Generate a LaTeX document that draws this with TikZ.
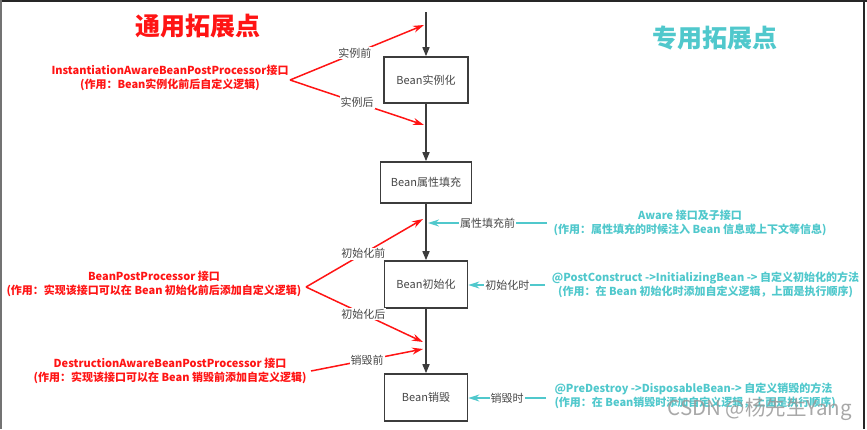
\documentclass[tikz,border=0pt]{standalone}
\usepackage{fontspec}
\setmainfont{Noto Sans CJK SC}
\usetikzlibrary{arrows.meta}
\definecolor{myred}{RGB}{255,20,20}
\definecolor{mycyan}{RGB}{80,200,204}
\definecolor{boxgray}{RGB}{60,60,60}
\definecolor{txtgray}{RGB}{70,70,70}
\tikzset{
  stepbox/.style={draw=boxgray, line width=1.6pt, fill=white, font=\fontsize{11}{13}\selectfont, text=txtgray, inner sep=0pt},
  flow/.style={draw=boxgray, line width=1.5pt, -{Triangle[length=9pt,width=7pt]}},
  redarrow/.style={draw=myred, line width=1.5pt, -{Stealth[length=11pt,width=7pt]}},
  cyanarrow/.style={draw=mycyan, line width=1.5pt, -{Stealth[length=11pt,width=7pt]}},
  edgelabel/.style={fill=white, inner sep=1pt, font=\fontsize{11}{13}\selectfont, text=txtgray},
  redtext/.style={align=center, text=myred, font=\fontsize{11}{14}\selectfont\bfseries},
  cyantext/.style={align=center, text=mycyan, font=\fontsize{11}{14}\selectfont\bfseries},
  bigtitle/.style={font=\fontsize{25}{30}\selectfont\bfseries}
}
\begin{document}
\begin{tikzpicture}[x=1pt,y=-1pt]
\useasboundingbox (0,0) rectangle (867,429);
% frame
\draw[line width=1.5pt, black!85] (0,0.75) -- (867,0.75);
\draw[line width=2pt, black!55] (1,0) -- (1,429);
\draw[line width=1.5pt, black!85] (864,0) -- (864,429);

% titles
\node[bigtitle, text=myred] (t1) at (198,26) {通用拓展点};
\node[bigtitle, text=mycyan] (t2) at (715,38) {专用拓展点};

% main boxes
\coordinate (top) at (426,12);
\node[stepbox, minimum width=84pt, minimum height=46pt] (b1) at (426,80) {Bean实例化};
\node[stepbox, minimum width=91pt, minimum height=41pt] (b2) at (426,182.5) {Bean属性填充};
\node[stepbox, minimum width=83pt, minimum height=47pt] (b3) at (426,284.5) {Bean初始化};
\node[stepbox, minimum width=83pt, minimum height=47pt] (b4) at (426,397.5) {Bean销毁};

\draw[flow] (top) -- (b1.north);
\draw[flow] (b1.south) -- (b2.north);
\draw[flow] (b2.south) -- (b3.north);
\draw[flow] (b3.south) -- (b4.north);

% left texts
\node[redtext] (r1) at (170,78) {InstantiationAwareBeanPostProcessor接口\\(作用：Bean实例化前后自定义逻辑)};
\node[redtext] (r2) at (154,284) {BeanPostProcessor 接口\\(作用：实现该接口可以在 Bean 初始化前后添加自定义逻辑)};
\node[redtext] (r3) at (170,370.5) {DestructionAwareBeanPostProcessor 接口\\(作用：实现该接口可以在 Bean 销毁前添加自定义逻辑)};

\coordinate (s1) at (290,80);
\coordinate (s2) at (306,287);
\coordinate (s3) at (311,371);
\coordinate (p1) at (424,25);
\coordinate (p2) at (424,125);
\coordinate (p3) at (423,219);
\coordinate (p4) at (423,342);
\coordinate (p5) at (423,349);

\draw[redarrow] (s1) -- node[edgelabel, pos=0.485] (l1) {实例前} (p1);
\draw[redarrow] (s1) -- node[edgelabel, pos=0.5] (l2) {实例后} (p2);
\draw[redarrow] (s2) -- node[edgelabel, pos=0.49] (l3) {初始化前} (p3);
\draw[redarrow] (s2) -- node[edgelabel, pos=0.49] (l4) {初始化后} (p4);
\draw[redarrow] (s3) -- node[edgelabel, pos=0.5] (l5) {销毁前} (p5);

% right texts
\node[cyantext] (c1) at (690,222.5) {Aware 接口及子接口\\(作用：属性填充的时候注入 Bean 信息或上下文等信息)};
\node[cyantext] (c2) at (705.5,284.5) {@PostConstruct ->InitializingBean -> 自定义初始化的方法\\(作用：在 Bean 初始化时添加自定义逻辑，上面是执行顺序)};
\node[cyantext, align=left, anchor=west] (c3) at (551,396) {@PreDestroy ->DisposableBean-> 自定义销毁的方法\\(作用：在 Bean销毁时添加自定义逻辑，上面是执行顺序)};

\coordinate (q1) at (547,223);
\coordinate (q1e) at (428,223);
\coordinate (q2) at (545,285);
\coordinate (q3) at (546,398);

\draw[cyanarrow] (q1) -- node[edgelabel, pos=0.5] (m1) {属性填充前} (q1e);
\draw[cyanarrow] (q2) -- node[edgelabel, pos=0.49] (m2) {初始化时} (b3.east |- q2);
\draw[cyanarrow] (q3) -- node[edgelabel, pos=0.5] (m3) {销毁时} (b4.east |- q3);

% watermark
\node[text=black!40, opacity=0.85, font=\fontsize{20.5}{24}\selectfont, inner sep=0pt, anchor=east] (wm) at (852,409) {CSDN @杨先生Yang};
\end{tikzpicture}
\end{document}
